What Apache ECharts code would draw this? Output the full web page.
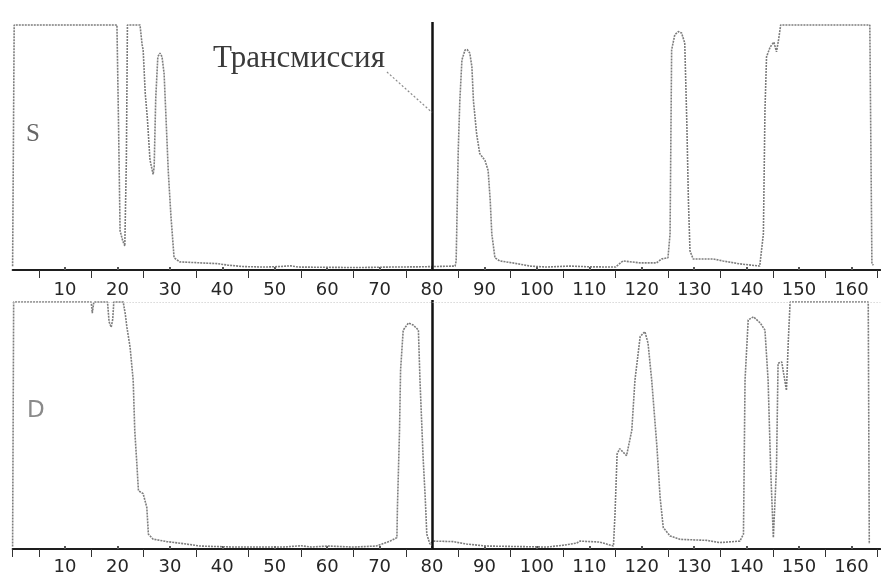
<!DOCTYPE html>
<html>
<head>
<meta charset="utf-8">
<script src="https://cdn.jsdelivr.net/npm/echarts@6/dist/echarts.min.js"></script>
<style>
  html, body { margin: 0; padding: 0; background: #fff; }
  #chart { width: 881px; height: 580px; }
</style>
</head>
<body>
<div id="chart"></div>
<script>
// Wavelength positions (upper trace S)
const sX = [0, 0.3, 19.9, 20.2, 20.5, 21.0, 21.4, 21.7, 21.9, 24.3, 24.7, 24.9, 25.3, 25.7, 26.2, 26.8, 27.0, 27.3, 27.7, 28.1, 28.5, 28.9, 29.3, 29.7, 30.2, 30.8, 31.9, 35, 39, 41, 44, 48, 51, 53, 54.5, 60, 66, 72, 78, 84.4, 84.6, 84.7, 85.0, 85.3, 85.7, 86.3, 86.7, 87.2, 87.6, 87.9, 88.5, 89.1, 90.1, 90.7, 91.1, 91.4, 92.0, 92.9, 95.4, 98.7, 101.9, 106.3, 110, 115, 116.4, 119.7, 122.8, 123.8, 125.0, 125.4, 125.7, 126.3, 127.0, 127.6, 128.2, 128.6, 128.9, 129.2, 129.8, 133.6, 135.5, 138.7, 142.5, 143.2, 143.5, 143.8, 144.5, 145.2, 145.7, 146.1, 146.5, 163.5, 163.9, 164.2];
// Transmission level, % (upper trace S)
const sY = [1.5, 100, 100, 60, 16, 12, 9.8, 45, 100, 100, 92, 89.8, 72, 62, 45, 39, 42, 70, 87, 88.5, 87, 80, 60, 40, 22, 5, 3.3, 3.0, 2.6, 2.0, 1.4, 1.2, 1.4, 1.7, 1.2, 1.1, 1.0, 1.2, 1.3, 1.6, 3.7, 14.7, 48.8, 69, 85.7, 89.8, 90, 88.5, 83, 69, 55.6, 47.5, 44.7, 40.6, 28.3, 14.7, 5, 3.7, 2.9, 1.6, 1.2, 1.6, 1.3, 1.2, 3.7, 2.9, 2.9, 4.5, 5, 14.7, 89.8, 96, 97.3, 96.7, 92.6, 59.8, 28.3, 7.8, 4.5, 4.5, 3.7, 2.5, 1.6, 14.7, 65, 87, 91, 93, 89, 94, 100, 100, 2.5, 2.0];

// Wavelength positions (lower trace D)
const dX = [0, 0.2, 15.0, 15.2, 15.5, 18.1, 18.4, 18.8, 19.1, 19.3, 21.1, 21.5, 21.8, 22.4, 23.0, 23.3, 23.7, 24.0, 24.9, 25.6, 25.9, 26.8, 29.4, 33.2, 35.7, 42, 51.6, 55, 57, 60, 65, 69.4, 72, 73.3, 73.4, 73.8, 74.0, 74.5, 75.5, 76.4, 77.4, 77.7, 78.3, 78.7, 79.0, 79.6, 80.2, 84, 86.6, 90.4, 101.9, 105, 107.6, 108.2, 112, 114.6, 114.9, 115.3, 115.8, 117.1, 118.1, 118.7, 119.7, 120.6, 121.2, 121.9, 122.9, 123.5, 124.1, 125.4, 127.3, 132.4, 134.9, 138.7, 139.4, 139.7, 140.3, 141.3, 142.6, 143.5, 144.1, 144.6, 145.1, 145.7, 146.0, 146.7, 147.6, 147.96, 148.3, 163.2, 163.4];
// Transmission level, % (lower trace D)
const dY = [1, 100, 100, 95.5, 100, 100, 92, 89.8, 93, 100, 100, 95, 89.8, 81.8, 68.3, 48, 34.4, 23.6, 22.4, 16.8, 6, 4, 3, 2, 1.2, 0.8, 0.8, 1.3, 0.8, 1.2, 0.8, 1.2, 3.2, 4.6, 16.8, 48, 72.4, 88.6, 91.5, 90.7, 88.6, 68.3, 37, 20.9, 6, 2, 3.2, 3, 2, 1.2, 0.8, 1.5, 2.4, 3.2, 2.8, 1.2, 14.2, 38.5, 40.6, 37.8, 48, 68.3, 86, 88, 83.3, 68.3, 41.2, 20.9, 8.7, 5.3, 3.9, 3.5, 2.6, 3.2, 6, 68.3, 92.7, 94, 91.5, 88.6, 68.3, 31.7, 4.6, 33, 75.2, 75.7, 64.2, 84.6, 100, 100, 2];

// Axis labels and tick positions
const labelValues = [10, 20, 30, 40, 50, 60, 70, 80, 90, 100, 110, 120, 130, 140, 150, 160];
const halfTicks = [5, 15, 25, 35, 45, 55, 65, 75, 85, 95, 105, 115, 125, 135, 145, 155, 165];
const markerX = 80;
const panelNames = ['S', 'D'];
const calloutText = 'Трансмиссия';

const zip = (xs, ys) => xs.map((x, i) => [x, ys[i]]);

const X_MAX = 165.5;
const traceStyle = { color: '#7d7d7d', width: 1.6, type: [2, 1] };

function mainX(gridIndex, margin, withZero) {
  return {
    type: 'value', gridIndex, min: 0, max: X_MAX,
    axisLine: { show: true, onZero: false, lineStyle: { color: '#1e1e1e', width: 2 } },
    axisTick: {
      show: true, length: 8, inside: false,
      customValues: withZero ? [0].concat(halfTicks) : halfTicks,
      lineStyle: { color: '#333', width: 1 }
    },
    axisLabel: {
      show: true, customValues: labelValues, margin,
      fontFamily: 'DejaVu Sans', fontSize: 18, color: '#262626'
    },
    splitLine: { show: false }
  };
}
function dotX(gridIndex) {
  return {
    type: 'value', gridIndex, min: 0, max: X_MAX,
    axisLine: { show: false },
    axisTick: { show: true, length: 3, customValues: labelValues, lineStyle: { color: '#555', width: 2 } },
    axisLabel: { show: false },
    splitLine: { show: false }
  };
}

const chart = echarts.init(document.getElementById('chart'), null, { renderer: 'canvas' });
chart.setOption({
  animation: false,
  backgroundColor: '#ffffff',
  grid: [
    { left: 12.6, top: 22, width: 867.7, height: 248 },
    { left: 12.6, top: 300, width: 867.7, height: 249 }
  ],
  xAxis: [mainX(0, 11, false), mainX(1, 9, true), dotX(0), dotX(1)],
  yAxis: [
    { type: 'value', gridIndex: 0, min: 0, max: 101.2, show: false, splitLine: { show: false } },
    { type: 'value', gridIndex: 1, min: 0, max: 100.8, show: false, splitLine: { show: false } }
  ],
  series: [
    {
      name: 'S', type: 'line', xAxisIndex: 0, yAxisIndex: 0,
      data: zip(sX, sY), showSymbol: false, lineStyle: traceStyle,
      markLine: {
        silent: true, symbol: 'none', label: { show: false },
        data: [
          { xAxis: markerX, lineStyle: { color: '#111', width: 2.5, type: 'solid' } },
          [
            { coord: [71.4, 80.8], lineStyle: { color: '#8a8a8a', width: 1.2, type: [2, 2] } },
            { coord: [markerX, 64.3] }
          ]
        ]
      }
    },
    {
      name: 'D', type: 'line', xAxisIndex: 1, yAxisIndex: 1,
      data: zip(dX, dY), showSymbol: false, lineStyle: traceStyle,
      markLine: {
        silent: true, symbol: 'none', label: { show: false },
        data: [
          { xAxis: markerX, lineStyle: { color: '#111', width: 2.5, type: 'solid' } },
          { yAxis: 100, lineStyle: { color: '#c4c4c4', width: 1, type: [1, 2] } }
        ]
      }
    }
  ],
  graphic: [
    { type: 'text', left: 26, top: 122, style: { text: panelNames[0], font: '25px "Liberation Serif"', fill: '#666' } },
    { type: 'text', left: 27, top: 400, style: { text: panelNames[1], font: '23px "DejaVu Sans"', fill: '#8a8a8a' } },
    { type: 'text', left: 213, top: 43, style: { text: calloutText, font: '31px "Liberation Serif"', fill: '#3a3a3a' } }
  ]
});
</script>
</body>
</html>
